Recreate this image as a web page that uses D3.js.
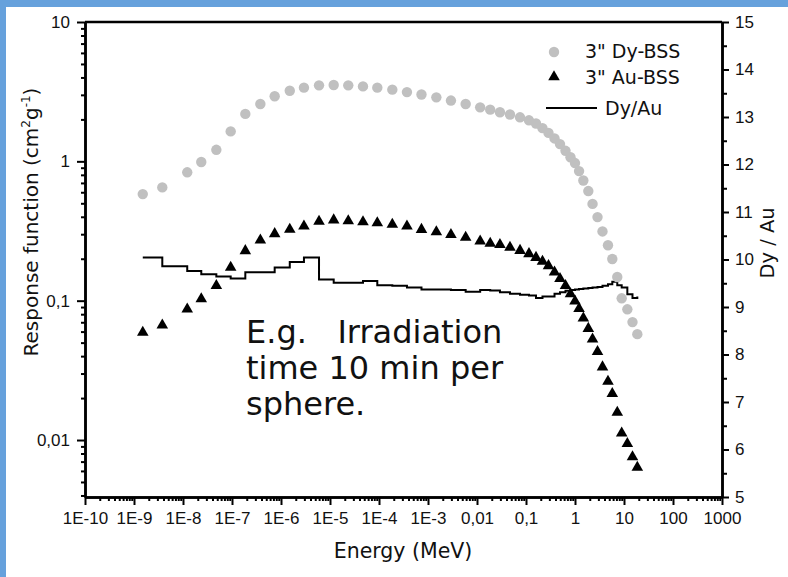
<!DOCTYPE html>
<html>
<head>
<meta charset="utf-8">
<title>Response functions 3" Dy-BSS / Au-BSS</title>
<style>
  body { margin: 0; background: #fff; }
  .axis text { font: 17px "Liberation Sans", Arial, sans-serif; fill: #111; }
  .axis path, .axis line { stroke: #000; }
  .axis path { stroke-width: 2.5px; }
  .axis line { stroke-width: 2px; }
  .legend text { font: 19px "DejaVu Sans", Verdana, sans-serif; fill: #111; }
  .note { font: 32px "DejaVu Sans", Verdana, sans-serif; fill: #111; white-space: pre; }
  .title { font: 20px "DejaVu Sans", Verdana, sans-serif; fill: #111; }
</style>
<script src="https://d3js.org/d3.v7.min.js"></script>
</head>
<body>
<svg width="788" height="577"></svg>
<script>
// energies (MeV) shared by both spheres
var energy = [1.51e-9, 3.78e-9, 1.22e-8, 2.36e-8, 4.79e-8, 9.4e-8, 1.87e-7, 3.79e-7, 7.43e-7,
  1.51e-6, 2.94e-6, 5.97e-6, 1.19e-5, 2.36e-5, 4.71e-5, 9.23e-5, 1.87e-4, 3.72e-4, 7.36e-4,
  1.48e-3, 2.94e-3, 5.87e-3, 0.0116, 0.0186, 0.0294, 0.0471, 0.0755, 0.115, 0.160, 0.217,
  0.288, 0.382, 0.494, 0.640, 0.809, 1.0, 1.21, 1.48, 1.87, 2.28, 2.88, 3.64, 4.71, 5.77,
  7.29, 8.97, 11.7, 14.9, 18.7];

var dyBss = [0.582, 0.650, 0.834, 0.989, 1.21, 1.64, 2.19, 2.58, 2.93, 3.21, 3.38, 3.51, 3.53,
  3.51, 3.45, 3.38, 3.27, 3.14, 3.02, 2.88, 2.73, 2.58, 2.44, 2.35, 2.25, 2.17, 2.07, 1.97,
  1.87, 1.73, 1.60, 1.46, 1.33, 1.19, 1.07, 0.972, 0.851, 0.728, 0.612, 0.495, 0.398, 0.314,
  0.250, 0.199, 0.148, 0.104, 0.0867, 0.0702, 0.0575];

var auBss = [0.0592, 0.0668, 0.0870, 0.103, 0.128, 0.173, 0.228, 0.272, 0.302, 0.325, 0.343,
  0.370, 0.379, 0.374, 0.368, 0.362, 0.353, 0.342, 0.324, 0.312, 0.298, 0.284, 0.267, 0.258,
  0.252, 0.241, 0.229, 0.217, 0.204, 0.191, 0.178, 0.160, 0.144, 0.128, 0.112, 0.0993,
  0.0877, 0.0750, 0.0631, 0.0530, 0.0431, 0.0334, 0.0263, 0.0215, 0.0158, 0.0112, 0.00942,
  0.00757, 0.00636];

var dyAuRatio = [10.04, 9.86, 9.76, 9.69, 9.64, 9.60, 9.73, 9.73, 9.83, 9.95, 10.04, 9.58, 9.51,
  9.51, 9.55, 9.46, 9.45, 9.41, 9.37, 9.37, 9.36, 9.32, 9.36, 9.35, 9.31, 9.28, 9.26, 9.24,
  9.19, 9.22, 9.22, 9.28, 9.31, 9.34, 9.36, 9.37, 9.38, 9.39, 9.40, 9.41, 9.42, 9.45, 9.48,
  9.53, 9.46, 9.41, 9.27, 9.19, 9.22];

var xTicks = [1e-10, 1e-9, 1e-8, 1e-7, 1e-6, 1e-5, 1e-4, 1e-3, 1e-2, 1e-1, 1, 10, 100, 1000];
var xTickLabels = ["1E-10", "1E-9", "1E-8", "1E-7", "1E-6", "1E-5", "1E-4", "1E-3",
  "0,01", "0,1", "1", "10", "100", "1000"];
var yTicks = [0.01, 0.1, 1, 10];
var yTickLabels = ["0,01", "0,1", "1", "10"];
var ratioTicks = [5, 6, 7, 8, 9, 10, 11, 12, 13, 14, 15];

var svg = d3.select("svg");
var mLeft = 85, mRight = 722, mTop = 22, mBottom = 497;

// blue frame of the slide
svg.append("rect").attr("x", 0).attr("y", 0).attr("width", 788).attr("height", 7).attr("fill", "#66a1dc");
svg.append("rect").attr("x", 0).attr("y", 0).attr("width", 6).attr("height", 577).attr("fill", "#66a1dc");

var x = d3.scaleLog().domain([1e-10, 1000]).range([mLeft, mRight]),
    y = d3.scaleLog().domain([0.0039, 10]).range([mBottom, mTop]),
    yR = d3.scaleLinear().domain([5, 15]).range([mBottom, mTop]);

// minor ticks
var xMinor = [];
for (var d = -10; d < 3; d++) for (var k = 2; k < 10; k++) xMinor.push(k * Math.pow(10, d));
var yMinor = [];
for (var d = -3; d < 1; d++) for (var k = 2; k < 10; k++) {
  var v = k * Math.pow(10, d);
  if (v >= 0.0039) yMinor.push(v);
}
var rMinor = d3.range(5.5, 15, 1);

svg.append("g").attr("class", "axis").attr("transform", "translate(0," + mBottom + ")")
  .call(d3.axisBottom(x).tickValues(xMinor).tickSize(4).tickSizeOuter(0).tickFormat(""));
svg.append("g").attr("class", "axis").attr("transform", "translate(0," + mBottom + ")")
  .call(d3.axisBottom(x).tickValues(xTicks).tickSize(8).tickSizeOuter(0).tickPadding(7)
    .tickFormat(function(d, i) { return xTickLabels[i]; }));

svg.append("g").attr("class", "axis").attr("transform", "translate(" + mLeft + ",0)")
  .call(d3.axisLeft(y).tickValues(yMinor).tickSize(4).tickSizeOuter(0).tickFormat(""));
svg.append("g").attr("class", "axis").attr("transform", "translate(" + mLeft + ",0)")
  .call(d3.axisLeft(y).tickValues(yTicks).tickSize(8).tickSizeOuter(0).tickPadding(7)
    .tickFormat(function(d, i) { return yTickLabels[i]; }));

svg.append("g").attr("class", "axis").attr("transform", "translate(" + mRight + ",0)")
  .call(d3.axisRight(yR).tickValues(rMinor).tickSize(5).tickSizeOuter(0).tickFormat(""));
svg.append("g").attr("class", "axis").attr("transform", "translate(" + mRight + ",0)")
  .call(d3.axisRight(yR).tickValues(ratioTicks).tickSize(7).tickSizeOuter(0).tickPadding(6)
    .tickFormat(d3.format("d")));

// top frame line
svg.append("line").attr("x1", mLeft).attr("x2", mRight).attr("y1", mTop).attr("y2", mTop)
  .attr("stroke", "#000").attr("stroke-width", 2.5);

var pts = energy.map(function(e, i) { return {e: e, dy: dyBss[i], au: auBss[i], r: dyAuRatio[i]}; });

// ratio step line
var stepLine = d3.line().curve(d3.curveStepAfter)
  .x(function(d) { return x(d.e); })
  .y(function(d) { return yR(d.r); });
svg.append("path").datum(pts).attr("d", stepLine)
  .attr("fill", "none").attr("stroke", "#000").attr("stroke-width", 2);

svg.append("g").selectAll("circle").data(pts).enter().append("circle")
  .attr("cx", function(d) { return x(d.e); })
  .attr("cy", function(d) { return y(d.dy); })
  .attr("r", 5.2)
  .attr("fill", "#c0c0c0");

var tri = d3.symbol().type(d3.symbolTriangle).size(58);
svg.append("g").selectAll("path").data(pts).enter().append("path")
  .attr("d", tri)
  .attr("transform", function(d) { return "translate(" + x(d.e) + "," + y(d.au) + ")"; })
  .attr("fill", "#000");

// legend
var lg = svg.append("g").attr("class", "legend");
lg.append("circle").attr("cx", 554).attr("cy", 52).attr("r", 5.2).attr("fill", "#c0c0c0");
lg.append("text").attr("x", 585).attr("y", 58).text('3" Dy-BSS');
lg.append("path").attr("d", tri).attr("transform", "translate(554,77)").attr("fill", "#000");
lg.append("text").attr("x", 585).attr("y", 84).text('3" Au-BSS');
lg.append("line").attr("x1", 546).attr("x2", 597).attr("y1", 108).attr("y2", 108)
  .attr("stroke", "#000").attr("stroke-width", 2);
lg.append("text").attr("x", 605).attr("y", 115).text("Dy/Au");

// note
var note = svg.append("text").attr("class", "note");
note.append("tspan").attr("x", 246).attr("y", 343).text("E.g.   Irradiation");
note.append("tspan").attr("x", 246).attr("y", 379).text("time 10 min per");
note.append("tspan").attr("x", 246).attr("y", 415).text("sphere.");

// axis titles
svg.append("text").attr("class", "title").attr("text-anchor", "middle")
  .attr("x", 403).attr("y", 558)
  .style("font-size", "20.5px")
  .text("Energy (MeV)");

var yt = svg.append("text").attr("class", "title").attr("text-anchor", "middle")
  .attr("transform", "translate(38,222) rotate(-90)");
yt.append("tspan").text("Response function (cm");
yt.append("tspan").attr("dy", -8).style("font-size", "12px").text("2");
yt.append("tspan").attr("dy", 8).text("g");
yt.append("tspan").attr("dy", -8).style("font-size", "12px").text("-1");
yt.append("tspan").attr("dy", 8).text(")");

svg.append("text").attr("class", "title").attr("text-anchor", "middle")
  .attr("transform", "translate(774,243) rotate(-90)")
  .style("font-size", "19.5px")
  .text("Dy / Au");
</script>
</body>
</html>
